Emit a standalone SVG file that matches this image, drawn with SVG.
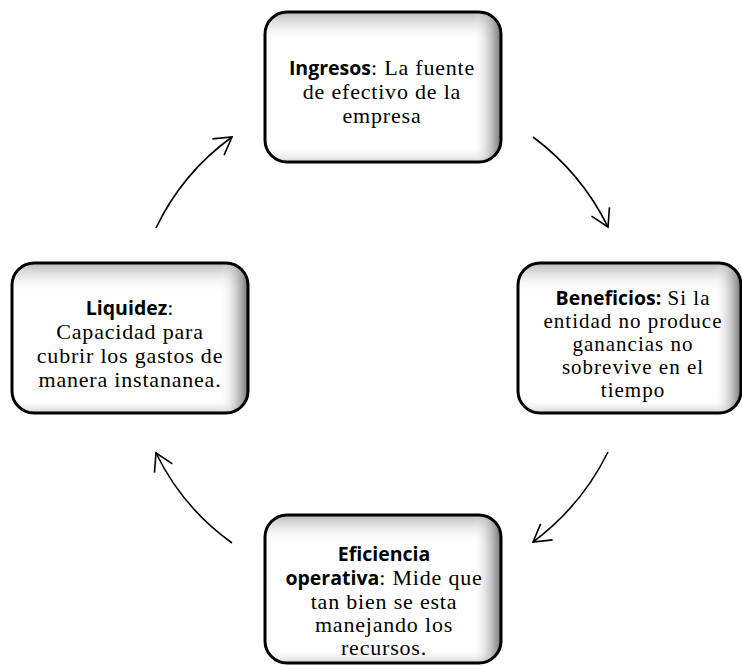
<svg xmlns="http://www.w3.org/2000/svg" width="742" height="666" viewBox="0 0 742 666">
<defs>
<style>
.box{fill:#ffffff;stroke:none}
.shTop{fill:url(#gTop);stroke:none}
.shRight{fill:url(#gRight);stroke:none}
.border{fill:none;stroke:#000;stroke-width:3}
.t{font-family:"Liberation Serif","Times New Roman",serif;font-size:22px;letter-spacing:0.8px;fill:#000;text-anchor:middle}
.s{font-size:21px;letter-spacing:1px}
.b{font-family:"Open Sans","DejaVu Sans",sans-serif;font-weight:bold;font-size:19.5px;letter-spacing:0}
.conn{fill:none;stroke:#000;stroke-width:1.6}
</style>
<linearGradient id="gTop" x1="0" y1="0" x2="0" y2="1">
<stop offset="0" stop-color="#b8b8b8" stop-opacity="1"/>
<stop offset="0.2" stop-color="#ffffff" stop-opacity="0"/>
<stop offset="0.9" stop-color="#ffffff" stop-opacity="0"/>
<stop offset="1" stop-color="#c8c8c8" stop-opacity="0.8"/>
</linearGradient>
<linearGradient id="gRight" x1="0" y1="0" x2="1" y2="0">
<stop offset="0" stop-color="#ffffff" stop-opacity="0"/>
<stop offset="0.88" stop-color="#ffffff" stop-opacity="0"/>
<stop offset="1" stop-color="#707070" stop-opacity="1"/>
</linearGradient>
<marker id="arr" markerUnits="userSpaceOnUse" markerWidth="30" markerHeight="30" refX="0" refY="0" viewBox="-20 -15 25 30" orient="auto">
<path d="M -17 -10 L 0 0 L -17 10" fill="none" stroke="#000" stroke-width="1.6"/>
</marker>
</defs>

<g id="connectors">
<path class="conn" d="M 533 137 A 250 250 0 0 1 608 227" marker-end="url(#arr)"/>
<path class="conn" d="M 608 452 A 250 250 0 0 1 533 542" marker-end="url(#arr)"/>
<path class="conn" d="M 232 543 A 240 240 0 0 1 156 453" marker-end="url(#arr)"/>
<path class="conn" d="M 156 228 A 240 240 0 0 1 232 137" marker-end="url(#arr)"/>
</g>

<g id="node-ingresos">
<rect class="box" x="265" y="12" width="236" height="150" rx="22"/>
<rect class="shTop" x="265" y="12" width="236" height="150" rx="22"/>
<rect class="shRight" x="265" y="12" width="236" height="150" rx="22"/>
<rect class="border" x="265" y="12" width="236" height="150" rx="22"/>
<text class="t" x="382" y="75"><tspan class="b">Ingreso</tspan><tspan class="b">s</tspan>: La fuente</text>
<text class="t" x="382" y="99">de efectivo de la</text>
<text class="t" x="382" y="123">empresa</text>
</g>

<g id="node-beneficios">
<rect class="box" x="518" y="263" width="223" height="150" rx="22"/>
<rect class="shTop" x="518" y="263" width="223" height="150" rx="22"/>
<rect class="shRight" x="518" y="263" width="223" height="150" rx="22"/>
<rect class="border" x="518" y="263" width="223" height="150" rx="22"/>
<text class="t s" x="633" y="305"><tspan class="b">Beneficios:</tspan> Si la</text>
<text class="t s" x="633" y="328">entidad no produce</text>
<text class="t s" x="633" y="351">ganancias no</text>
<text class="t s" x="633" y="374">sobrevive en el</text>
<text class="t s" x="633" y="397">tiempo</text>
</g>

<g id="node-eficiencia">
<rect class="box" x="265" y="515" width="236" height="148" rx="22"/>
<rect class="shTop" x="265" y="515" width="236" height="148" rx="22"/>
<rect class="shRight" x="265" y="515" width="236" height="148" rx="22"/>
<rect class="border" x="265" y="515" width="236" height="148" rx="22"/>
<text class="t b" x="384" y="561">Eficiencia</text>
<text class="t" x="384" y="585"><tspan class="b">operativa</tspan>: Mide que</text>
<text class="t" x="384" y="609">tan bien se esta</text>
<text class="t" x="384" y="632">manejando los</text>
<text class="t" x="384" y="655">recursos.</text>
</g>

<g id="node-liquidez">
<rect class="box" x="12" y="263" width="236" height="150" rx="22"/>
<rect class="shTop" x="12" y="263" width="236" height="150" rx="22"/>
<rect class="shRight" x="12" y="263" width="236" height="150" rx="22"/>
<rect class="border" x="12" y="263" width="236" height="150" rx="22"/>
<text class="t" x="130" y="315"><tspan class="b">Liquidez</tspan>:</text>
<text class="t" x="130" y="339">Capacidad para</text>
<text class="t" x="130" y="363">cubrir los gastos de</text>
<text class="t" x="130" y="387">manera instananea.</text>
</g>
</svg>
